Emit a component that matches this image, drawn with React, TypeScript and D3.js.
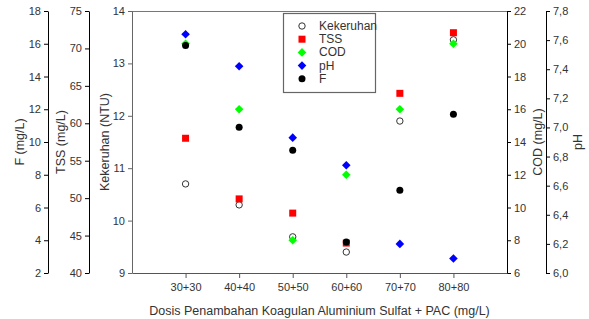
import React, { useEffect, useRef } from 'react';
import * as d3 from 'd3';

const categories = ['30+30', '40+40', '50+50', '60+60', '70+70', '80+80'];
const kekeruhan = [10.7, 10.3, 9.69, 9.4, 11.9, 13.45];
const tss = [58.0, 49.9, 48.0, 44.0, 64.0, 72.1];
const cod = [20.0, 16.0, 8.0, 12.0, 16.0, 20.0];
const ph = [7.64, 7.42, 6.93, 6.74, 6.2, 6.1];
const fluor = [15.9, 10.9, 9.5, 3.9, 7.05, 11.7];

const kekTicks = [9, 10, 11, 12, 13, 14];
const fTicks = [2, 4, 6, 8, 10, 12, 14, 16, 18];
const tssTicks = [40, 45, 50, 55, 60, 65, 70, 75];
const codTicks = [6, 8, 10, 12, 14, 16, 18, 20, 22];
const phTicks = [6.0, 6.2, 6.4, 6.6, 6.8, 7.0, 7.2, 7.4, 7.6, 7.8];

const legendItems = [
  { name: 'Kekeruhan', shape: 'circle' },
  { name: 'TSS', shape: 'square' },
  { name: 'COD', shape: 'diamondG' },
  { name: 'pH', shape: 'diamondB' },
  { name: 'F', shape: 'dot' },
];

const App = () => {
  const svgRef = useRef<SVGSVGElement | null>(null);

  useEffect(() => {
    const svg = d3.select(svgRef.current);
    svg.selectAll('*').remove();
    const font = 'Liberation Sans, Arial, sans-serif';

    const left = 132, right = 507, top = 11, bottom = 273;
    const x = d3.scaleLinear().domain([0, 7]).range([left, right]);
    const yKek = d3.scaleLinear().domain([9, 14]).range([bottom, top]);
    const yF = d3.scaleLinear().domain([2, 18]).range([bottom, top]);
    const yTss = d3.scaleLinear().domain([40, 75]).range([bottom, top]);
    const yCod = d3.scaleLinear().domain([6, 22]).range([bottom, top]);
    const yPh = d3.scaleLinear().domain([6, 7.8]).range([bottom, top]);

    const styleAxis = (g: any, lineColor: string) => {
      g.selectAll('path').attr('stroke', lineColor);
      g.selectAll('line').attr('stroke', lineColor);
      g.selectAll('text').attr('fill', '#333').style('font-family', font).style('font-size', '11px');
    };
    const intFmt = d3.format('d');

    // top border
    svg.append('line')
      .attr('x1', left).attr('x2', right).attr('y1', top + 0.5).attr('y2', top + 0.5)
      .attr('stroke', '#777');

    // left axes
    svg.append('g').attr('transform', `translate(48,0)`)
      .call(d3.axisLeft(yF).tickValues(fTicks).tickSize(4).tickSizeOuter(0).tickPadding(3).tickFormat(intFmt as any))
      .call(g => styleAxis(g, '#000'));
    svg.append('g').attr('transform', `translate(89,0)`)
      .call(d3.axisLeft(yTss).tickValues(tssTicks).tickSize(4).tickSizeOuter(0).tickPadding(3).tickFormat(intFmt as any))
      .call(g => styleAxis(g, '#000'));
    svg.append('g').attr('transform', `translate(${left},0)`)
      .call(d3.axisLeft(yKek).tickValues(kekTicks).tickSize(4).tickSizeOuter(0).tickPadding(3).tickFormat(intFmt as any))
      .call(g => styleAxis(g, '#666'));

    // right axes
    svg.append('g').attr('transform', `translate(${right},0)`)
      .call(d3.axisRight(yCod).tickValues(codTicks).tickSize(4).tickSizeOuter(0).tickPadding(3).tickFormat(intFmt as any))
      .call(g => styleAxis(g, '#000'));
    svg.append('g').attr('transform', `translate(546,0)`)
      .call(d3.axisRight(yPh).tickValues(phTicks).tickSize(4).tickSizeOuter(0).tickPadding(3)
        .tickFormat(d => d3.format('.1f')(d as number).replace('.', ',')))
      .call(g => styleAxis(g, '#000'));

    // bottom axis
    svg.append('g').attr('transform', `translate(0,${bottom})`)
      .call(d3.axisBottom(x).tickValues([1, 2, 3, 4, 5, 6]).tickSize(5).tickSizeOuter(0).tickPadding(5)
        .tickFormat(d => categories[(d as number) - 1]))
      .call(g => styleAxis(g, '#555'));

    // axis titles
    const vTitle = (tx: number, text: string) => {
      svg.append('text')
        .attr('transform', `translate(${tx},${(top + bottom) / 2}) rotate(-90)`)
        .attr('text-anchor', 'middle')
        .style('font-family', font).style('font-size', '12.5px').attr('fill', '#333')
        .text(text);
    };
    vTitle(24, 'F (mg/L)');
    vTitle(65, 'TSS (mg/L)');
    vTitle(109, 'Kekeruhan (NTU)');
    vTitle(542, 'COD (mg/L)');
    vTitle(582, 'pH');

    svg.append('text')
      .attr('x', (left + right) / 2).attr('y', 315)
      .attr('text-anchor', 'middle')
      .style('font-family', font).style('font-size', '12.5px').attr('fill', '#333')
      .text('Dosis Penambahan Koagulan Aluminium Sulfat + PAC (mg/L)');

    const dm = 4.3;
    const diamondPath = `M0,${-dm}L${dm},0L0,${dm}L${-dm},0Z`;

    const drawMarker = (g: any, shape: string, cx: number, cy: number) => {
      if (shape === 'circle') {
        g.append('circle').attr('cx', cx).attr('cy', cy).attr('r', 3.2)
          .attr('fill', '#fff').attr('stroke', '#333').attr('stroke-width', 1);
      } else if (shape === 'square') {
        g.append('rect').attr('x', cx - 3.5).attr('y', cy - 3.5).attr('width', 7).attr('height', 7)
          .attr('fill', '#ff0000');
      } else if (shape === 'diamondG' || shape === 'diamondB') {
        g.append('path').attr('d', diamondPath).attr('transform', `translate(${cx},${cy})`)
          .attr('fill', shape === 'diamondG' ? '#00ff00' : '#0000ff');
      } else {
        g.append('circle').attr('cx', cx).attr('cy', cy).attr('r', 3.5).attr('fill', '#000');
      }
    };

    const marks = svg.append('g');
    kekeruhan.forEach((v, i) => drawMarker(marks, 'circle', x(i + 1), yKek(v)));
    tss.forEach((v, i) => drawMarker(marks, 'square', x(i + 1), yTss(v)));
    cod.forEach((v, i) => drawMarker(marks, 'diamondG', x(i + 1), yCod(v)));
    ph.forEach((v, i) => drawMarker(marks, 'diamondB', x(i + 1), yPh(v)));
    fluor.forEach((v, i) => drawMarker(marks, 'dot', x(i + 1), yF(v)));

    // legend
    const lg = svg.append('g');
    lg.append('rect').attr('x', 283.5).attr('y', 13.5).attr('width', 92).attr('height', 79)
      .attr('fill', '#fff').attr('stroke', '#666').attr('stroke-width', 1.2);
    legendItems.forEach((item, i) => {
      const cy = 26 + i * 13.2;
      drawMarker(lg, item.shape, 302, cy);
      lg.append('text').attr('x', 319).attr('y', cy + 4)
        .style('font-family', font).style('font-size', '12px').attr('fill', '#333')
        .text(item.name);
    });
  }, []);

  return (
    <svg ref={svgRef} width={589} height={319}
      style={{ position: 'absolute', left: 0, top: 0, background: '#fff' }} />
  );
};

export default App;
